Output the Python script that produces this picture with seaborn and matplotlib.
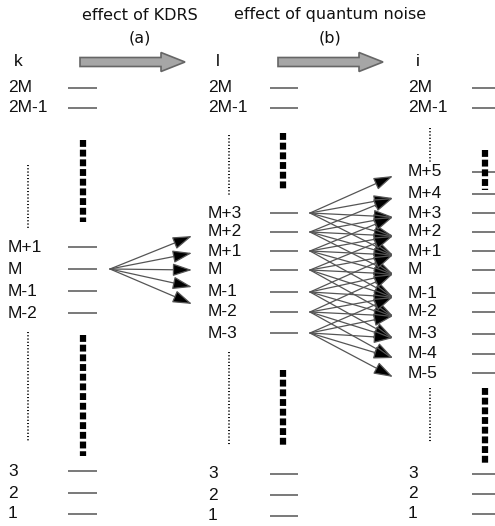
import numpy as np
import seaborn as sns
import matplotlib.pyplot as plt
from matplotlib.patches import FancyArrow

# level labels per column
k_levels = ["2M", "2M-1", "M+1", "M", "M-1", "M-2", "3", "2", "1"]
l_levels = ["2M", "2M-1", "M+3", "M+2", "M+1", "M", "M-1", "M-2", "M-3", "3", "2", "1"]
i_levels = ["2M", "2M-1", "M+5", "M+4", "M+3", "M+2", "M+1", "M", "M-1", "M-2",
            "M-3", "M-4", "M-5", "3", "2", "1"]

# KDRS: M in k goes to these offsets in l
kdrs_shifts = [2, 1, 0, -1, -2]
# quantum noise: every l level M-3..M+3 spreads to +-2 in i
qn_sources = [3, 2, 1, 0, -1, -2, -3]
qn_shifts = [2, 1, 0, -1, -2]

# layout (pixel-like coords)
k_y = [88, 108, 247, 269, 291, 313, 471, 493, 514]
l_y = [88, 108, 213, 232, 251, 270, 292, 312, 333, 474, 495, 516]
i_y = [88, 108, 172, 194, 213, 232, 251, 270, 293, 312, 334, 354, 373, 474, 494, 514]

sns.set_theme(style="white")
plt.rcParams['font.family'] = ['Liberation Sans', 'DejaVu Sans']

fig = plt.figure(figsize=(4.95, 5.26), dpi=100)
ax = fig.add_axes([0, 0, 1, 1])
ax.set_xlim(0, 495)
ax.set_ylim(526, 0)
ax.axis("off")

cols = [
    ("k", k_levels, k_y, 8, 68, 97),
    ("l", l_levels, l_y, 208, 270, 298),
    ("i", i_levels, i_y, 408, 472, 496),
]
for name, levels, ys, xl, x0, x1 in cols:
    ax.text(xl + 10, 62, name, fontsize=12.5, ha="center", va="center", color="#111111")
    for lab, y in zip(levels, ys):
        ax.text(xl, y, lab, fontsize=12.5, ha="left", va="center", color="#111111")
    ax.hlines(ys, x0, x1, color="#555555", lw=1.1)

# dotted and dashed gaps
dots = [(28, 165, 228), (28, 332, 442), (229, 135, 195), (229, 352, 446),
        (430, 128, 162), (430, 388, 442)]
for x, a, b in dots:
    ax.plot([x, x], [a, b], color="black", lw=1.3, ls=(0, (0.6, 1.2)))
thick = [(83, 140, 222), (83, 335, 456), (283, 133, 190), (283, 370, 446),
         (485, 150, 190), (485, 388, 465)]
for x, a, b in thick:
    ax.plot([x, x], [a, b], color="black", lw=4.5, ls=(0, (1.1, 0.45)))

# titles and big block arrows
tfont = dict(fontsize=11.5, ha="center", va="center", family="DejaVu Sans", color="#111111")
ax.text(140, 15, "effect of KDRS", **tfont)
ax.text(140, 38, "(a)", **tfont)
ax.text(330, 15, "effect of quantum noise", **tfont)
ax.text(330, 38, "(b)", **tfont)
for xs in (80, 278):
    ax.add_patch(FancyArrow(xs, 62, 105, 0, width=9, head_width=19, head_length=24,
                            length_includes_head=True, fc="#a6a6a6", ec="#666666", lw=1.2))

def ypos(levels, ys, off):
    lab = "M" if off == 0 else ("M+%d" % off if off > 0 else "M-%d" % -off)
    return ys[levels.index(lab)]

aprops = dict(arrowstyle="-|>,head_length=0.85,head_width=0.28", color="#555555",
              lw=0.9, shrinkA=0, shrinkB=0, mutation_scale=14)

y0 = ypos(k_levels, k_y, 0)
for s in kdrs_shifts:
    yt = ypos(l_levels, l_y, 0) - 17 * s
    ax.annotate("", xy=(192, yt), xytext=(110, y0),
                arrowprops=dict(aprops, fc="black"))

for src in qn_sources:
    ys_ = ypos(l_levels, l_y, src)
    for s in qn_shifts:
        yt = ypos(i_levels, i_y, src + s) + 4
        ax.annotate("", xy=(393, yt), xytext=(310, ys_),
                    arrowprops=dict(aprops, fc="black"))

fig.savefig("out.png", dpi=100)
